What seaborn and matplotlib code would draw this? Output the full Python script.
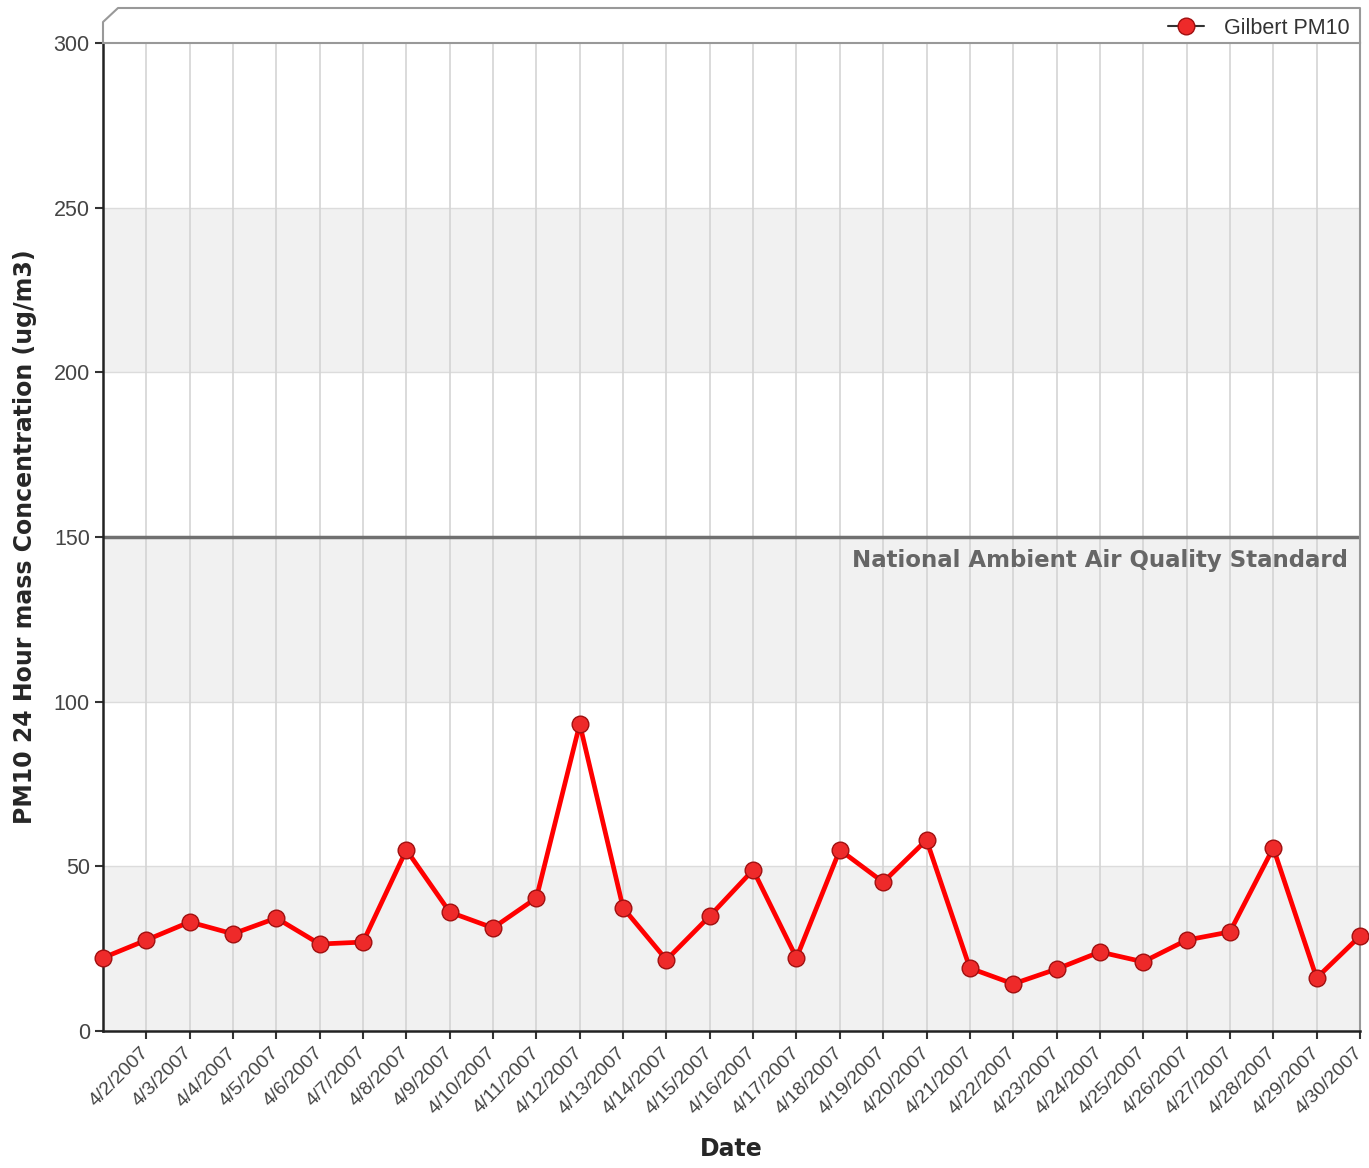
"""
Gilbert PM10, April 2007
"""
from matplotlib import pyplot as plt
from matplotlib.lines import Line2D
import pandas as pd
import seaborn as sns

days = list(range(1, 31))
pm10 = [22.2, 27.6, 33.1, 29.5, 34.3, 26.4, 27.0, 55.0, 36.1, 31.3,
        40.4, 93.2, 37.4, 21.6, 34.9, 48.9, 22.2, 55.0, 45.2, 58.0,
        19.1, 14.3, 18.8, 24.0, 21.0, 27.6, 30.1, 55.6, 16.1, 28.8]
tick_labels = [f'4/{d}/2007' for d in days[1:]]
standard = 150
y_ticks = [0, 50, 100, 150, 200, 250, 300]

df = pd.DataFrame({'day': days, 'pm10': pm10})

sns.set_style('white')
plt.rcParams['font.family'] = ['Liberation Sans', 'DejaVu Sans']
bold_font = ['DejaVu Sans']

fig = plt.figure(figsize=(13.69, 11.68), dpi=100)
ax = fig.add_axes([0.0752, 0.1173, 0.9182, 0.8459])

# alternating bands
for lo in range(0, 300, 100):
    ax.axhspan(lo, lo + 50, color='#f1f1f1', zorder=0, lw=0)
for y in y_ticks[1:-1]:
    ax.axhline(y, color='#dcdcdc', lw=1, zorder=1)
for d in days[1:]:
    ax.axvline(d, color='#d4d4d4', lw=1.2, zorder=1)

ax.axhline(standard, color='#707070', lw=2.5, zorder=2)
ax.text(29.72, 143, 'National Ambient Air Quality Standard', ha='right', va='center',
        fontsize=16.5, fontweight='bold', color='#666666', family=bold_font)

sns.lineplot(data=df, x='day', y='pm10', ax=ax, color='#ff0000', lw=3.4,
             marker='o', markersize=12, markerfacecolor='#ee2a2a',
             markeredgecolor='#a01010', markeredgewidth=1, clip_on=False,
             label='Gilbert PM10', zorder=5)

ax.set_xlim(1, 30)
ax.set_ylim(0, 300)
ax.set_yticks(y_ticks)
ax.set_xticks(days[1:])
ax.set_xticklabels(tick_labels, rotation=45, ha='right', va='center',
                   rotation_mode='anchor')
ax.tick_params(axis='both', direction='out', length=6, width=1.5, color='#333333',
               labelcolor='#444444', left=True, bottom=True)
ax.tick_params(axis='y', labelsize=15.5)
ax.tick_params(axis='x', labelsize=14, pad=8)

ax.set_xlabel('Date', fontsize=17, fontweight='bold', labelpad=14, family=bold_font)
ax.set_ylabel('PM10 24 Hour mass Concentration (ug/m3)', fontsize=17,
              fontweight='bold', labelpad=12, family=bold_font)

for s in ['left', 'bottom']:
    ax.spines[s].set_color('#222222')
    ax.spines[s].set_linewidth(1.8)
for s in ['top', 'right']:
    ax.spines[s].set_color('#999999')
    ax.spines[s].set_linewidth(1.5)

# frame above the plot holding the legend
W, H = 1369, 1168
xs = [103 / W, 103 / W, 118 / W, 1360 / W, 1360 / W]
ys = [1 - 43 / H, 1 - 22 / H, 1 - 8 / H, 1 - 8 / H, 1 - 43 / H]
fig.add_artist(Line2D(xs, ys, color='#999999', lw=1.5))

leg = ax.legend(loc='upper right', bbox_to_anchor=(1.0, 1.0 + 36 / 988),
                frameon=False, fontsize=15.5, handlelength=1.7,
                handletextpad=0.9, borderaxespad=0.1)
for t in leg.get_texts():
    t.set_color('#333333')
for h in leg.get_lines():
    h.set_color('#333333')
    h.set_linewidth(1.5)
    h.set_markerfacecolor('#ee2a2a')
    h.set_markeredgecolor('#a01010')

plt.savefig('out.png', dpi=100)
